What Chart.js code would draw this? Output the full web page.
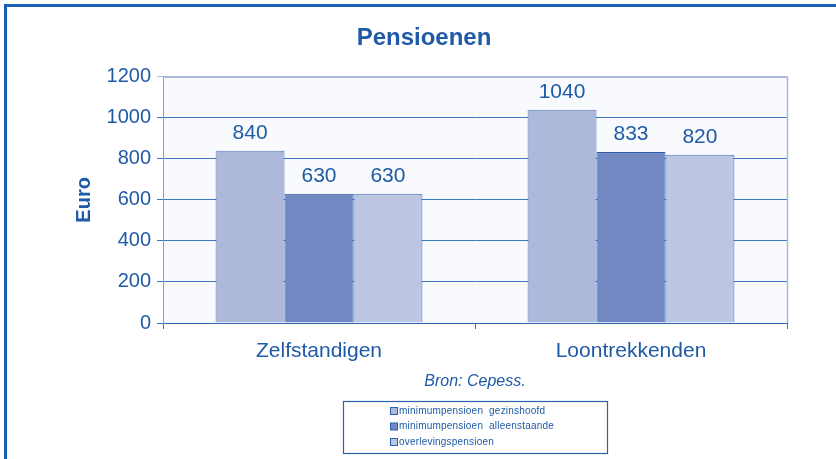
<!DOCTYPE html>
<html>
<head>
<meta charset="utf-8">
<script src="https://cdn.jsdelivr.net/npm/chart.js@4.4.1/dist/chart.umd.min.js"></script>
<style>
  html, body { margin: 0; padding: 0; background: #fff; }
  #wrap { width: 836px; height: 459px; }
</style>
</head>
<body>
<div id="wrap"><canvas id="pensionChart" width="836" height="459"></canvas></div>
<script>
// categories and series
const categories = ['Zelfstandigen', 'Loontrekkenden'];
const seriesNames = ['minimumpensioen  gezinshoofd', 'minimumpensioen  alleenstaande', 'overlevingspensioen'];
const gezinshoofd = [840, 1040];
const alleenstaande = [630, 833];
const overleving = [630, 820];
const yTicks = [0, 200, 400, 600, 800, 1000, 1200];

const blue = '#1f5aa6';
const gridBlue = '#3a78c0';
const paleBorder = '#aab8dd';
const barColors = ['#adb8da', '#7188c2', '#bcc5e1'];
const font = '"Liberation Sans", Arial, sans-serif';

// plot background, frame, value labels and the boxed legend
const decor = {
  id: 'decor',
  beforeDraw(chart) {
    const { ctx, chartArea: a } = chart;
    ctx.save();
    ctx.fillStyle = '#f8fafd';
    ctx.fillRect(a.left, a.top, a.right - a.left, a.bottom - a.top);
    ctx.restore();
  },
  afterDatasetsDraw(chart) {
    const { ctx, chartArea: a } = chart;
    ctx.save();
    // pale top/right border of the plot
    ctx.strokeStyle = paleBorder;
    ctx.lineWidth = 1.5;
    ctx.beginPath();
    ctx.moveTo(a.left, a.top + 0.5);
    ctx.lineTo(a.right + 0.5, a.top + 0.5);
    ctx.lineTo(a.right + 0.5, a.bottom);
    ctx.stroke();

    // values above bars
    ctx.fillStyle = blue;
    ctx.font = '21px ' + font;
    ctx.textAlign = 'center';
    ctx.textBaseline = 'alphabetic';
    chart.data.datasets.forEach((ds, i) => {
      chart.getDatasetMeta(i).data.forEach((bar, j) => {
        ctx.fillText(String(ds.data[j]), bar.x, bar.y - 12);
      });
    });
    ctx.restore();
  },
  afterDraw(chart) {
    const { ctx, chartArea: a } = chart;
    ctx.save();
    // outer frame (runs off the right and bottom edges)
    ctx.strokeStyle = '#1a5fb0';
    ctx.lineWidth = 3;
    ctx.strokeRect(5.5, 5.5, chart.width + 20, chart.height + 20);

    // legend box
    const bx = 343, by = a.bottom + 78, bw = 264, bh = 52;
    ctx.strokeStyle = '#2a62b0';
    ctx.lineWidth = 1.2;
    ctx.fillStyle = '#fff';
    ctx.fillRect(bx, by, bw, bh);
    ctx.strokeRect(bx + 0.5, by + 0.5, bw, bh);
    ctx.font = '10px ' + font;
    ctx.letterSpacing = '0.2px';
    ctx.textBaseline = 'middle';
    ctx.textAlign = 'left';
    chart.data.datasets.forEach((ds, i) => {
      const y = by + 10 + i * 15.5;
      ctx.fillStyle = ds.backgroundColor;
      ctx.fillRect(390, y - 3.5, 7, 7);
      ctx.strokeStyle = '#2a62b0';
      ctx.lineWidth = 1;
      ctx.strokeRect(390.5, y - 3.5, 7, 7);
      ctx.fillStyle = blue;
      ctx.fillText(ds.label, 399, y);
    });
    ctx.restore();
  }
};

const data = {
  labels: categories,
  datasets: [
    { label: seriesNames[0], data: gezinshoofd, backgroundColor: barColors[0], borderColor: '#5b7cc0', borderWidth: 1 },
    { label: seriesNames[1], data: alleenstaande, backgroundColor: barColors[1], borderColor: '#2f5ca8', borderWidth: 1 },
    { label: seriesNames[2], data: overleving, backgroundColor: barColors[2], borderColor: '#4a72bb', borderWidth: 1 }
  ]
};

const config = {
  type: 'bar',
  data: data,
  options: {
    responsive: false,
    animation: false,
    layout: { padding: { left: 61, right: 49, top: 12, bottom: 64 } },
    datasets: {
      bar: { categoryPercentage: 0.663, barPercentage: 1.0 }
    },
    plugins: {
      legend: { display: false },
      tooltip: { enabled: false },
      title: {
        display: true,
        text: 'Pensioenen',
        color: blue,
        font: { family: font, size: 24, weight: 'bold' },
        padding: { top: 12, bottom: 24 }
      }
    },
    scales: {
      x: {
        grid: { drawOnChartArea: false, drawTicks: true, tickLength: 6, offset: true, color: gridBlue },
        border: { color: '#2f66b0', width: 1 },
        ticks: {
          color: blue,
          padding: 10,
          font: { family: font, size: 21 }
        },
        title: {
          display: true,
          text: 'Bron: Cepess.',
          color: blue,
          padding: { top: 4, bottom: 4 },
          font: { family: font, size: 16, style: 'italic' }
        },
        afterFit(scale) { scale.height = 72; }
      },
      y: {
        min: 0,
        max: 1200,
        afterBuildTicks(scale) { scale.ticks = yTicks.map(v => ({ value: v })); },
        grid: {
          color: ctx => (ctx.tick && ctx.tick.value === 1200 ? paleBorder : gridBlue),
          tickLength: 6,
          drawTicks: true
        },
        border: { color: '#7fa0d0', width: 1 },
        ticks: {
          color: blue,
          padding: 6,
          callback: v => String(v),
          font: { family: font, size: 20 }
        },
        title: {
          display: true,
          text: 'Euro',
          color: blue,
          padding: { top: 11, bottom: 0 },
          font: { family: font, size: 20, weight: 'bold' }
        },
        afterFit(scale) { scale.width = 102; }
      }
    }
  },
  plugins: [decor]
};

const myChart = new Chart(document.getElementById('pensionChart'), config);
</script>
</body>
</html>
